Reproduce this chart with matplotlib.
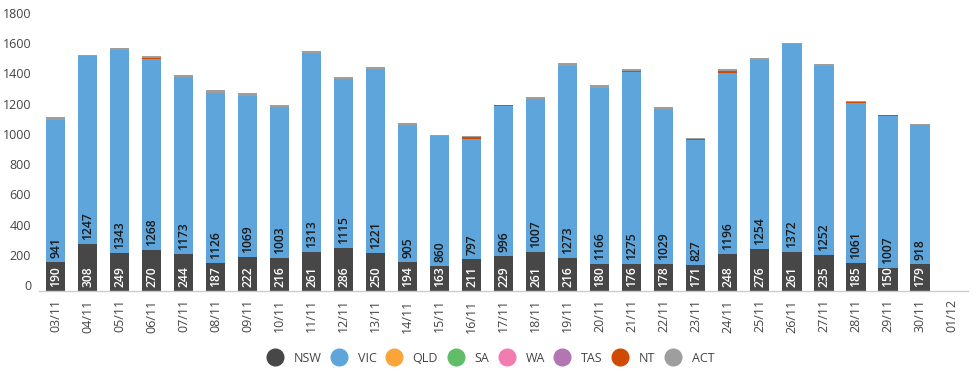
import numpy as np
import matplotlib
matplotlib.use("Agg")
import matplotlib.pyplot as plt
import matplotlib.transforms as mtransforms
from matplotlib.lines import Line2D

plt.rcParams['font.family'] = ['Open Sans', 'DejaVu Sans']

dates = ["03/11","04/11","05/11","06/11","07/11","08/11","09/11","10/11","11/11","12/11",
         "13/11","14/11","15/11","16/11","17/11","18/11","19/11","20/11","21/11","22/11",
         "23/11","24/11","25/11","26/11","27/11","28/11","29/11","30/11","01/12"]
nsw = [190,308,249,270,244,187,222,216,261,286,250,194,163,211,229,261,216,180,176,178,171,248,276,261,235,185,150,179]
vic = [941,1247,1343,1268,1173,1126,1069,1003,1313,1115,1221,905,860,797,996,1007,1273,1166,1275,1029,827,1196,1254,1372,1252,1061,1007,918]
qld = [0,0,0,0,0,0,0,0,0,4,0,0,0,0,0,0,0,0,0,0,0,0,0,0,4,0,0,3]
sa  = [0]*28
wa  = [0]*28
tas = [0]*28
nt  = [0,0,6,6,0,0,0,0,0,0,0,0,0,8,4,0,0,0,6,0,8,12,0,0,0,6,6,0]
act = [18,9,8,10,14,14,20,9,12,12,12,14,10,10,5,18,18,14,15,12,8,10,14,10,8,6,5,5]

series = [("NSW", nsw, "#474747"), ("VIC", vic, "#5DA5DA"), ("QLD", qld, "#FAA43A"),
          ("SA", sa, "#60BD68"), ("WA", wa, "#F17CB0"), ("TAS", tas, "#B276B2"),
          ("NT", nt, "#D04A02"), ("ACT", act, "#9E9E9E")]

fig = plt.figure(figsize=(9.79, 3.74), dpi=100)
ax = fig.add_axes([39.5/979, 1-291/374, (968-39.5)/979, (291-19)/374])

n = len(nsw)
x = np.arange(n)
bottom = np.zeros(n)
width = 0.6
for name, vals, col in series:
    v = np.array(vals, dtype=float)
    ax.bar(x, v, width, bottom=bottom, color=col, linewidth=0)
    bottom += v

trans_up = mtransforms.offset_copy(ax.transData, fig=fig, x=0, y=4, units='dots')
for i in range(n):
    ax.text(x[i], 0, str(nsw[i]), rotation=90, ha='center', va='bottom',
            color='white', fontsize=8.7, fontweight='semibold',
            transform=trans_up)
    ax.text(x[i], nsw[i], str(vic[i]), rotation=90, ha='center', va='bottom',
            color='#1a1a1a', fontsize=8.7, fontweight='semibold',
            transform=trans_up)

ax.set_xlim(-0.5, len(dates) - 0.5)
ax.set_ylim(0, 1800)
ax.set_xticks(np.arange(len(dates)))
ax.set_xticklabels(dates, rotation=90, fontsize=9, color='#444444')
ax.set_yticks(np.arange(0, 1801, 200))
ax.tick_params(axis='y', length=0, labelsize=9, labelcolor='#444444', pad=6)
ax.tick_params(axis='x', length=0, pad=6)
for lab in ax.get_yticklabels():
    lab.set_transform(lab.get_transform() + mtransforms.ScaledTranslation(0, 6/100, fig.dpi_scale_trans))

for s in ['top', 'right', 'left']:
    ax.spines[s].set_visible(False)
ax.spines['bottom'].set_color('#cccccc')
ax.spines['bottom'].set_linewidth(1)

handles = [Line2D([0], [0], marker='o', linestyle='none', markersize=12,
                  markerfacecolor=col, markeredgecolor=col, label=name)
           for name, _, col in series]
fig.legend(handles=handles, loc='center', bbox_to_anchor=(0.5, 1-358/374), ncol=8,
           frameon=False, fontsize=9, handletextpad=0.7, columnspacing=0.6,
           handlelength=1.6, labelcolor='#444444')

fig.savefig("out.png", dpi=100)
